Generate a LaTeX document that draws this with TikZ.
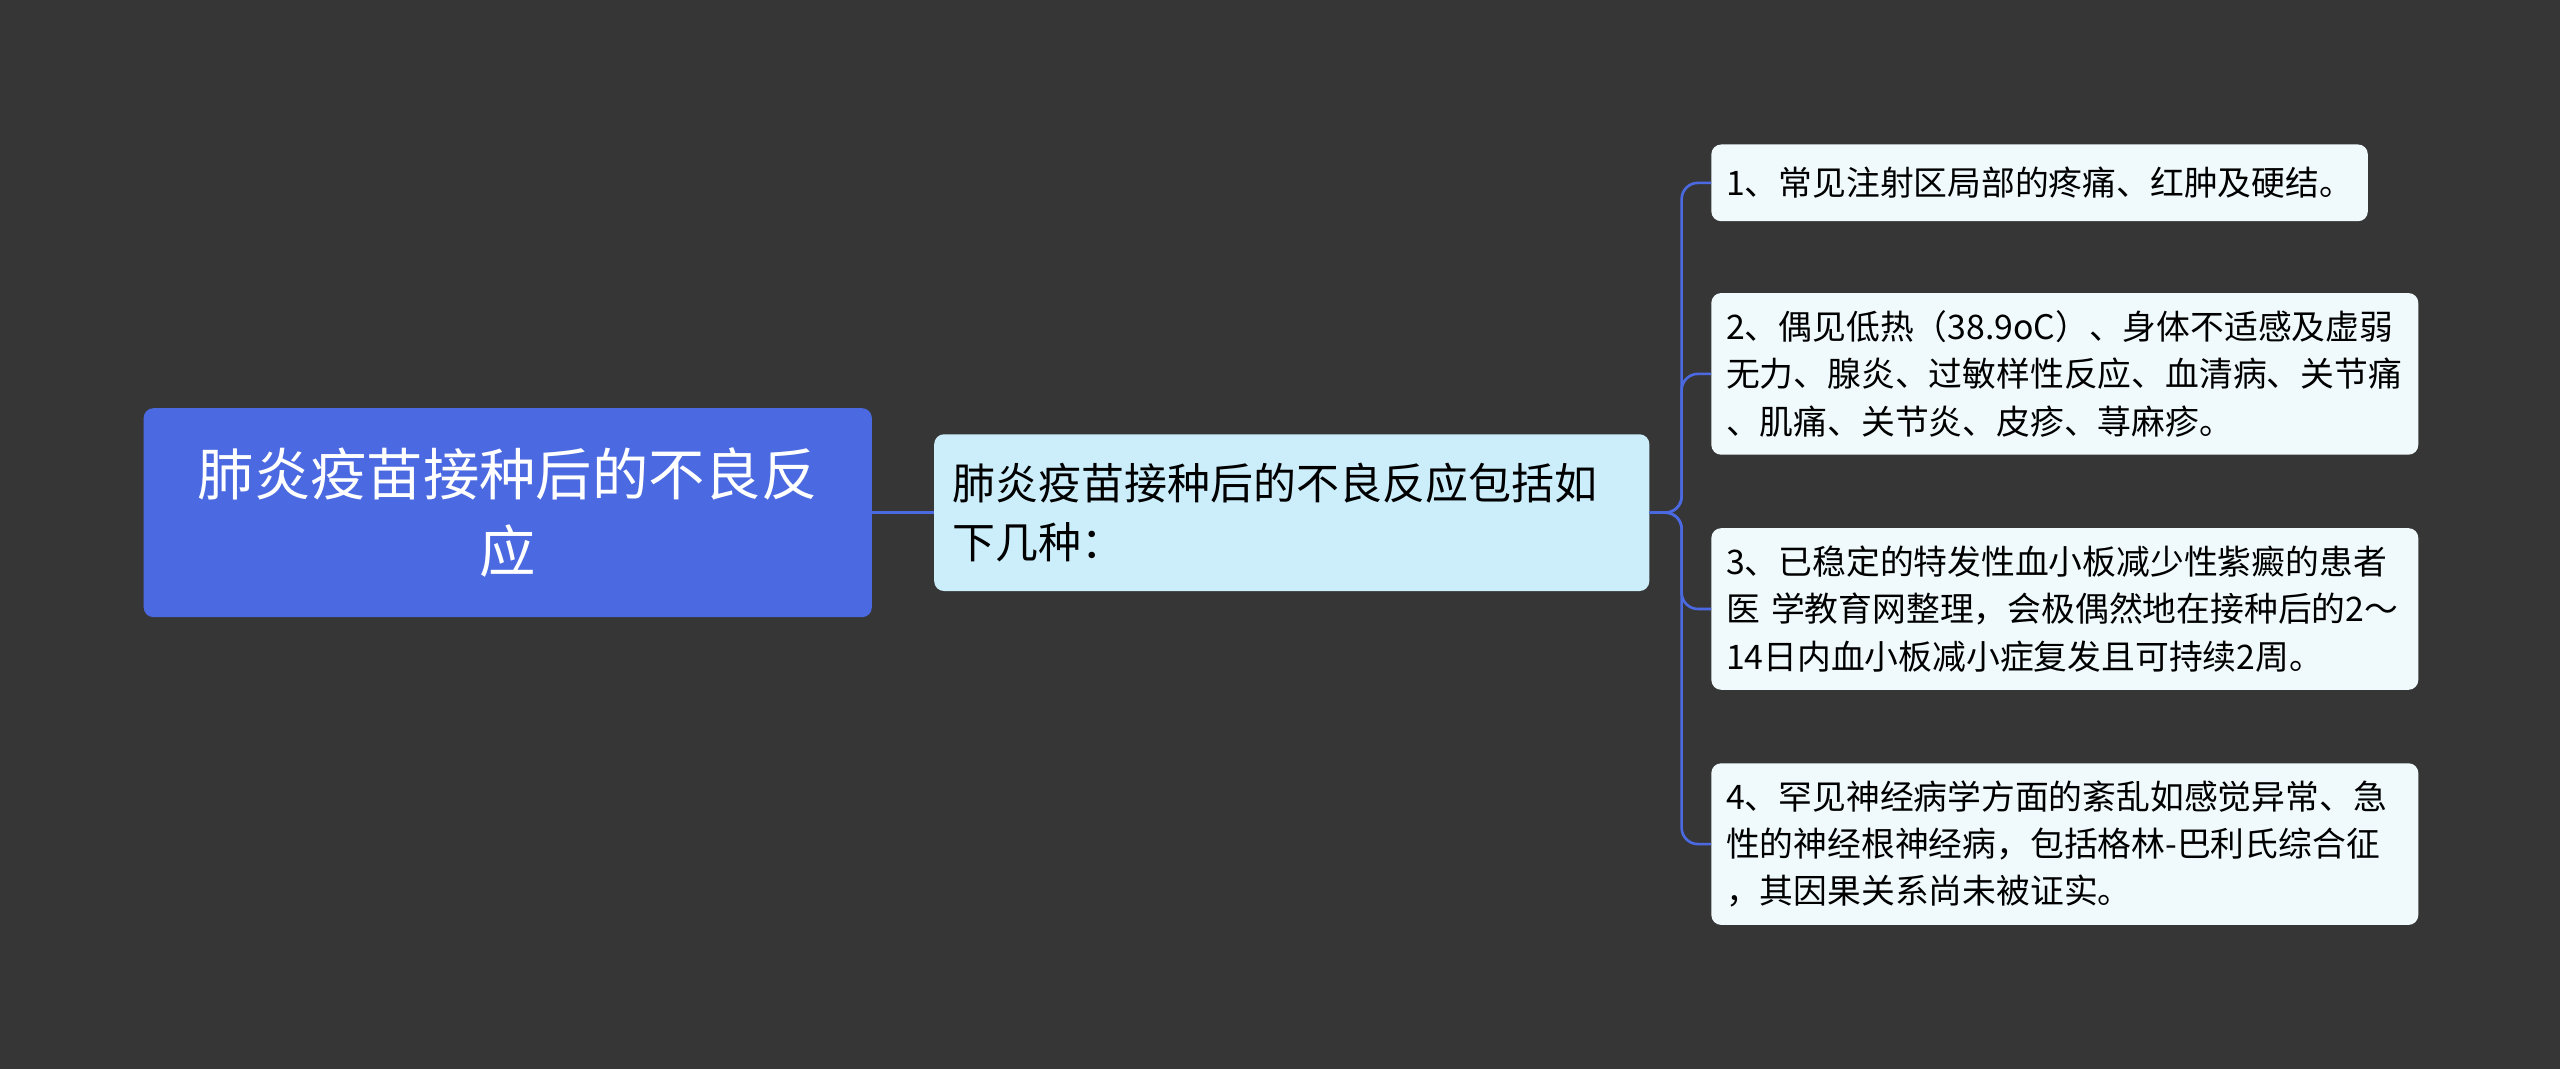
\documentclass[tikz,border=0pt]{standalone}
\usepackage{fontspec}
\setmainfont{Noto Sans CJK SC}
\begin{document}
\begin{tikzpicture}[x=1pt,y=-1pt,
  leaf/.style={anchor=west,fill=leafc,rounded corners=6pt,align=left,font=\fontsize{20.7}{29}\selectfont,text=black,inner xsep=9pt,inner ysep=6pt},
  conn/.style={draw=linec,line width=1.6pt,rounded corners=10pt}]
\definecolor{bg}{HTML}{373637}
\definecolor{rootc}{HTML}{4B69E0}
\definecolor{midc}{HTML}{CCEEFB}
\definecolor{leafc}{HTML}{F0FAFC}
\definecolor{linec}{HTML}{4B69E0}
\fill[bg] (0,0) rectangle (1568,655);
\useasboundingbox (0,0) rectangle (1568,655);
\node[fill=rootc,rounded corners=6pt,minimum width=446pt,minimum height=128pt,text=white,align=center,font=\fontsize{34.5}{47}\selectfont] (root) at (311,314) {肺炎疫苗接种后的不良反\\应};
\node[fill=midc,rounded corners=6pt,minimum width=438pt,minimum height=96pt,anchor=west,align=left,font=\fontsize{26.3}{36}\selectfont,text width=415pt] (mid) at (572,314) {肺炎疫苗接种后的不良反应包括如\\下几种：};
\node[leaf,minimum height=47pt] (l1) at (1048,112) {1、常见注射区局部的疼痛、红肿及硬结。};
\node[leaf,minimum height=99pt,text width=415pt] (l2) at (1048,229) {2、偶见低热（38.9oC）、身体不适感及虚弱\\无力、腺炎、过敏样性反应、血清病、关节痛\\、肌痛、关节炎、皮疹、荨麻疹。};
\node[leaf,minimum height=99pt,text width=415pt] (l3) at (1048,373) {3、已稳定的特发性血小板减少性紫癜的患者\\医 学教育网整理，会极偶然地在接种后的2～\\14日内血小板减小症复发且可持续2周。};
\node[leaf,minimum height=99pt,text width=415pt] (l4) at (1048,517) {4、罕见神经病学方面的紊乱如感觉异常、急\\性的神经根神经病，包括格林-巴利氏综合征\\，其因果关系尚未被证实。};
\draw[conn] (root.east) -- (mid.west);
\coordinate (bus) at (1030,314);
\draw[conn] (mid.east) -- (bus) |- (l1.west);
\draw[conn] (mid.east) -- (bus) |- (l2.west);
\draw[conn] (mid.east) -- (bus) |- (l3.west);
\draw[conn] (mid.east) -- (bus) |- (l4.west);
\end{tikzpicture}
\end{document}
